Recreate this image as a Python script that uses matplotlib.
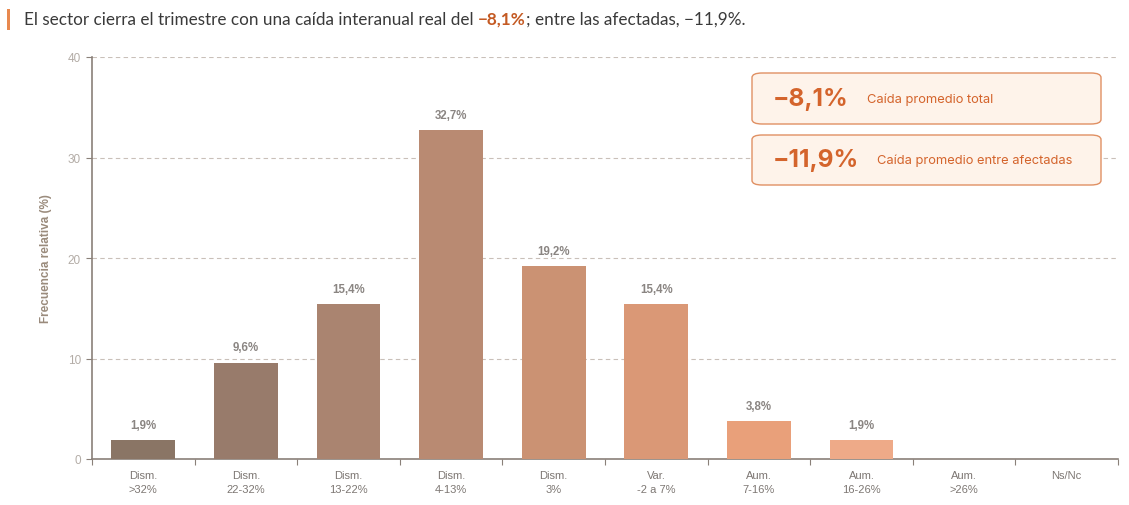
import matplotlib
matplotlib.use("Agg")
import matplotlib.pyplot as plt
from matplotlib.patches import FancyBboxPatch, Rectangle
import numpy as np

categories = ["Dism.\n>32%", "Dism.\n22-32%", "Dism.\n13-22%", "Dism.\n4-13%", "Dism.\n3%",
              "Var.\n-2 a 7%", "Aum.\n7-16%", "Aum.\n16-26%", "Aum.\n>26%", "Ns/Nc"]
values = [1.9, 9.6, 15.4, 32.7, 19.2, 15.4, 3.8, 1.9, 0.0, 0.0]
value_labels = ["1,9%", "9,6%", "15,4%", "32,7%", "19,2%", "15,4%", "3,8%", "1,9%", "", ""]
bar_colors = ["#8a7565", "#987b6b", "#aa8470", "#b98a72", "#cb9273",
              "#da9876", "#e9a07a", "#eeaa88", "#f2b898", "#f4c4a8"]
yticks = [0, 10, 20, 30, 40]
title_parts = [("El sector cierra el trimestre con una caída interanual real del ", "normal", "#3a3a3a"),
               ("\u22128,1%", "bold", "#c45a23"),
               ("; entre las afectadas, \u221211,9%.", "normal", "#3a3a3a")]
kpis = [("\u22128,1%", "Caída promedio total"), ("\u221211,9%", "Caída promedio entre afectadas")]

plt.rcParams['font.family'] = ['Liberation Sans', 'DejaVu Sans']

fig = plt.figure(figsize=(11.29, 5.06), dpi=100)
ax = fig.add_axes([92/1129, 1-460/506, (1118-92)/1129, (460-58)/506])

x = np.arange(len(categories))
ax.bar(x, values, width=0.62, color=bar_colors, zorder=3)
for xi, v, lab in zip(x, values, value_labels):
    if lab:
        ax.text(xi, v + 0.9, lab, ha="center", va="bottom", fontsize=8.3, fontweight="bold",
                color="#8a8582")

ax.set_xlim(-0.5, len(categories) - 0.5)
ax.set_ylim(0, 40)
ax.set_yticks(yticks)
ax.set_yticklabels([str(t) for t in yticks], fontsize=8.5, color="#b3aca6")
ax.set_xticks(np.arange(len(categories) + 1) - 0.5)
ax.set_xticklabels([])
ax.set_xticks(x, minor=True)
ax.set_xticklabels(categories, minor=True, fontsize=8, color="#7d7773", linespacing=1.45)
ax.tick_params(axis="x", which="minor", length=0, pad=8)
ax.tick_params(axis="x", which="major", length=4, color="#8a8079")
ax.tick_params(axis="y", length=4, color="#8a8079", pad=4)
ax.grid(axis="y", linestyle=(0, (4, 3)), color="#c9c0b9", linewidth=0.8, zorder=0)
for s in ["top", "right"]:
    ax.spines[s].set_visible(False)
for s in ["left", "bottom"]:
    ax.spines[s].set_color("#8a8079")
    ax.spines[s].set_linewidth(1.2)
ax.set_ylabel("Frecuencia relativa (%)", fontsize=8.5, fontweight="bold", color="#9a8b7c",
              labelpad=11)

# Title
fig.add_artist(Rectangle((7/1129, 1-31/506), 3/1129, 21/506, transform=fig.transFigure,
                         facecolor="#e8894f", edgecolor="none"))
fig.canvas.draw()
renderer = fig.canvas.get_renderer()
xpos = 24
for txt, w, c in title_parts:
    t = fig.text(xpos/1129, 1-20/506, txt, fontsize=12.3, fontweight=w, color=c,
                 ha="left", va="center", fontfamily=["Lato", "DejaVu Sans"])
    bb = t.get_window_extent(renderer=renderer)
    xpos += bb.width

# KPI boxes
box_y = [(74, 125), (136, 186)]
for (big, small), (y0, y1) in zip(kpis, box_y):
    fb = FancyBboxPatch((752/1129, 1-y1/506), (1101-752)/1129, (y1-y0)/506,
                        boxstyle="round,pad=0,rounding_size=0.009", transform=fig.transFigure,
                        facecolor="#fef3ea", edgecolor="#e09063", linewidth=1.0, zorder=5)
    fig.add_artist(fb)
    yc = 1 - (y0 + y1) / 2 / 506
    t = fig.text(773/1129, yc, big, fontsize=17.5, fontweight="bold", color="#d4642c",
                 ha="left", va="center", fontfamily=["Inter", "DejaVu Sans"], zorder=6)
    bb = t.get_window_extent(renderer=renderer)
    fig.text((773 + bb.width + 18)/1129, yc, small, fontsize=9.3, color="#d4642c",
             ha="left", va="center", fontfamily=["Inter", "DejaVu Sans"], zorder=6)

fig.savefig("out.png", dpi=100)
